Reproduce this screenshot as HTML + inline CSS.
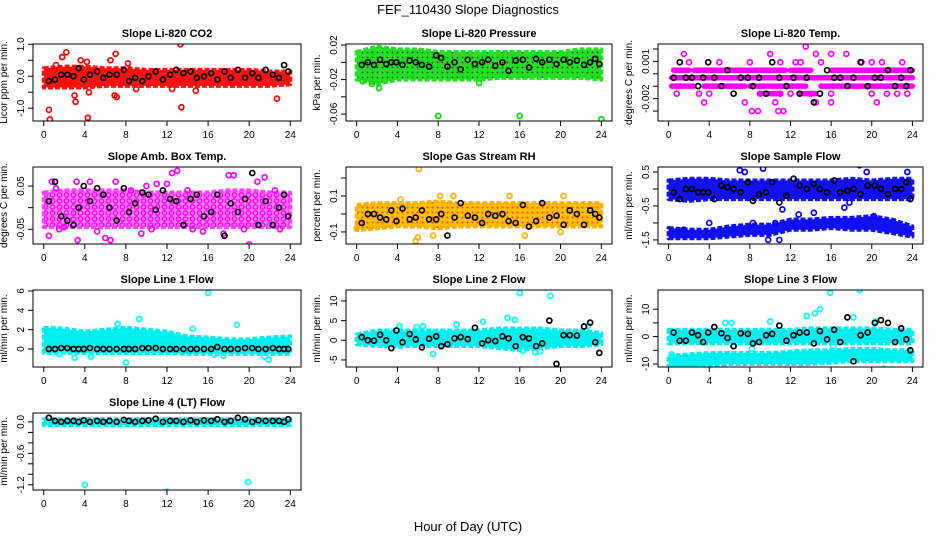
<!DOCTYPE html>
<html><head><meta charset="utf-8"><style>
body{margin:0;background:#fff;}
svg{display:block;font-family:"Liberation Sans",sans-serif;}
</style></head><body>
<svg id="chart" width="936" height="540" viewBox="0 0 936 540" xmlns="http://www.w3.org/2000/svg">
<defs>
<pattern id="patGreen" width="5" height="5" patternUnits="userSpaceOnUse"><rect width="5" height="5" fill="#22e022"/><circle cx="2.5" cy="2.5" r="0.9" fill="#104010"/></pattern>
<pattern id="patOrange" width="5" height="5" patternUnits="userSpaceOnUse"><rect width="5" height="5" fill="#ffc000"/><circle cx="2.5" cy="2.5" r="1" fill="#ff4000"/></pattern>
<pattern id="patPink" width="7" height="6" patternUnits="userSpaceOnUse"><rect width="7" height="6" fill="#ff80ff"/><circle cx="3.5" cy="3" r="2.2" fill="none" stroke="#ff00ff" stroke-width="1.4"/></pattern>
</defs>
<rect width="936" height="540" fill="#fff"/>
<text x="468" y="14" text-anchor="middle" font-size="13">FEF_110430  Slope Diagnostics</text>
<text x="468" y="531" text-anchor="middle" font-size="13">Hour of Day (UTC)</text>
<g id="panels"></g>
</svg>
<script>
const xTicks=[0,4,8,12,16,20,24];
const bandHours=[0,2,4,6,8,10,12,14,16,18,20,22,24];
const blackHours=[0.5,1.1,1.7,2.3,2.9,3.4,3.9,4.5,5.2,5.8,6.4,7.1,7.8,8.3,8.9,9.6,10.2,10.9,11.6,12.3,12.9,13.6,14.3,14.9,15.6,16.3,16.9,17.6,18.2,18.9,19.6,20.3,20.9,21.6,22.3,22.9,23.4,23.8];

// Panel 1 CO2
const p1Lo=[-0.35,-0.35,-0.35,-0.3,-0.3,-0.3,-0.3,-0.3,-0.3,-0.3,-0.3,-0.3,-0.25];
const p1Hi=[0.25,0.3,0.3,0.25,0.25,0.2,0.2,0.2,0.2,0.2,0.2,0.15,0.15];
const p1Out=[[0.5,-1.05],[0.6,-1.35],[1.8,0.6],[2.2,0.75],[1.2,0.35],[3,-0.6],[3.1,-0.8],[3.6,0.5],[4.3,-1.3],[4.2,0.45],[4.4,-0.5],[6.5,0.5],[7,0.7],[6.9,-0.6],[7.1,-0.65],[8.2,0.4],[13.3,1.0],[13.4,-0.97],[14.8,-0.45],[22.7,-0.7],[12.5,-0.4],[9,-0.4]];
const p1Black=[-0.15,-0.1,0.05,0.05,0.0,0.25,-0.1,0.05,0.15,-0.05,0.05,0.05,0.2,-0.15,-0.05,-0.15,0.0,0.15,-0.1,0.05,0.2,0.1,0.15,-0.05,0.0,0.1,-0.1,0.15,-0.05,0.2,-0.05,0.1,-0.05,0.2,0.05,-0.05,0.35,0.15];
// Panel 2 Pressure
const p2Lo=[-0.02,-0.025,-0.02,-0.02,-0.02,-0.02,-0.02,-0.018,-0.018,-0.018,-0.018,-0.018,-0.02];
const p2Hi=[0.012,0.018,0.015,0.015,0.012,0.012,0.012,0.012,0.012,0.012,0.012,0.015,0.015];
const p2Out=[[8,-0.062],[16,-0.062],[24,-0.066],[1.5,-0.025],[2.2,-0.03],[0.6,-0.022],[12,-0.024]];
const p2Black=[-0.003,0,-0.003,0.003,-0.002,0,0,-0.003,0.002,0,-0.003,-0.005,0.008,0.005,-0.005,0,-0.008,0.003,-0.002,0,0.003,-0.004,0,-0.01,0.002,0.003,-0.006,0.004,0,0.003,-0.002,0.003,0,0.002,-0.003,0,0.004,-0.002];
// Panel 3 Temp (quantized rows)
const p3Rows=[[0.3,24,-0.00032],[0.5,2,0.00029],[2.5,11.5,0.00029],[12,14,0.00029],[16,24,0.00029],[0.3,2.5,-0.00099],[3.5,7.5,-0.00099],[8,13.5,-0.00099],[15,24,-0.00099],[9,11,-0.0016],[13,14.5,-0.0016]];
const p3Out=[[1.5,0.0016],[10,0.0016],[13.5,0.0022],[14.5,0.0016],[16,0.0016],[17.5,0.0016],[11,0.00093],[2,0.00093],[5,0.00093],[8,0.00093],[13,0.00093],[15,0.00093],[19,0.00093],[20,0.00093],[21,0.00093],[12.5,0.00093],[23,0.00093],[0.8,-0.0016],[3,-0.0016],[4,-0.0016],[9,-0.0016],[11,-0.0016],[12,-0.0016],[14,-0.0016],[16,-0.0016],[20,-0.0016],[21.5,-0.0016],[22.5,-0.0016],[23.5,-0.0016],[3.5,-0.0023],[7.5,-0.0023],[10.5,-0.0023],[14.5,-0.0023],[16,-0.0023],[20.5,-0.0023],[8.2,-0.003],[8.8,-0.003],[10.8,-0.003],[11.3,-0.003]];
const p3Black=[-0.00032,0.00093,-0.00032,-0.00032,-0.00099,-0.00032,0.00093,-0.00032,-0.00099,0.00029,-0.0016,-0.00032,-0.00032,-0.00099,-0.00032,-0.0016,0.00093,-0.00032,-0.00099,-0.00032,-0.0016,-0.00032,-0.0023,-0.0016,0.00029,-0.00032,-0.00032,-0.00099,-0.00032,0.00093,-0.00099,-0.00032,-0.00032,0.00029,-0.00099,-0.00032,-0.00099,0.00029];
// Panel 4 Amb Box Temp
const p4Lo=[-0.045,-0.045,-0.045,-0.045,-0.045,-0.045,-0.045,-0.045,-0.045,-0.045,-0.045,-0.045,-0.045];
const p4Hi=[0.035,0.04,0.04,0.04,0.04,0.035,0.035,0.035,0.035,0.04,0.04,0.035,0.035];
const p4Out=[[0.5,-0.065],[0.8,0.06],[1.2,0.045],[3.3,-0.075],[3.2,0.06],[5.2,-0.055],[6,-0.07],[6.5,-0.075],[7,0.06],[8.5,0.04],[9.5,-0.06],[10,0.05],[11,0.055],[12,0.055],[12.5,0.08],[13,0.085],[14,0.04],[15.5,-0.055],[17.5,-0.06],[18,0.075],[18.5,0.075],[20,-0.085],[20.8,0.06],[21.5,0.07],[19.5,-0.05],[10.5,-0.05],[14.5,-0.05],[22.5,0.04],[23,-0.05],[2,-0.045],[1.5,-0.05],[4.5,0.06]];
const p4Black=[0.015,0.06,-0.02,-0.03,-0.04,0.0,0.05,0.015,0.045,0.03,0.0,-0.03,0.045,-0.01,0.01,0.035,0.03,-0.005,0.04,0.02,0.015,-0.04,0.02,0.03,-0.02,-0.01,0.03,-0.065,0.01,-0.01,0.02,0.08,-0.04,0.015,-0.04,0.0,0.03,-0.02];
// Panel 5 Gas RH
const p5Lo=[-0.09,-0.08,-0.07,-0.07,-0.08,-0.07,-0.07,-0.07,-0.07,-0.07,-0.07,-0.07,-0.07];
const p5Hi=[0.05,0.06,0.06,0.06,0.07,0.06,0.06,0.06,0.06,0.06,0.06,0.06,0.06];
const p5Out=[[6.1,0.25],[5.8,-0.15],[6,-0.13],[7.5,-0.12],[4.3,0.08],[9.5,0.1],[16.5,-0.12],[20,-0.1],[8.2,0.1],[15,0.1],[20.3,0.1],[0,-0.08]];
const p5Black=[-0.05,0.0,0.0,-0.02,-0.03,0.02,-0.04,0.03,-0.03,-0.02,0.02,-0.03,-0.03,0.0,-0.12,-0.02,0.06,-0.01,-0.02,-0.05,0.0,-0.01,0.0,-0.04,-0.05,0.05,-0.07,-0.04,0.06,-0.02,-0.01,-0.06,0.02,0.0,-0.06,0.02,0.0,-0.02];
// Panel 6 Sample Flow
const p6Lo=[-0.3,-0.35,-0.3,-0.3,-0.3,-0.3,-0.3,-0.3,-0.3,-0.3,-0.3,-0.3,-0.3];
const p6Hi=[0.25,0.3,0.3,0.25,0.25,0.25,0.25,0.25,0.25,0.3,0.25,0.3,0.3];
const p6Lo2=[-1.45,-1.45,-1.45,-1.4,-1.35,-1.35,-1.2,-1.2,-1.15,-1.2,-1.2,-1.3,-1.4];
const p6Hi2=[-1.15,-1.2,-1.2,-1.1,-1.05,-1.05,-0.9,-0.9,-0.85,-0.85,-0.8,-0.9,-1.1];
const p6Out=[[7,0.55],[7.5,0.5],[9.3,0.6],[18.8,0.7],[19.5,0.5],[23.5,0.5],[11.2,-0.6],[14.3,-0.7],[17.3,-0.55],[17.8,-0.4],[10.5,-1.0],[10.9,-1.5],[9.8,-1.5],[8.3,-1.0],[4,-1.0],[1.5,-1.2],[20.2,-0.8],[12.8,-0.75]];
const p6Black=[-0.1,-0.3,0.0,0.0,-0.1,-0.1,-0.1,-0.3,0.1,0.05,0.0,-0.1,0.2,-0.35,-0.15,-0.1,0.2,-0.4,-0.2,0.3,0.1,0.0,0.15,0.0,-0.1,0.25,-0.1,-0.05,0.0,-0.15,0.1,0.1,0.0,-0.15,0.0,0.0,0.2,-0.3];
// Panel 7 Line 1
const p7Lo=[-0.4,-0.4,-0.4,-0.4,-0.4,-0.4,-0.4,-0.5,-0.5,-0.5,-0.5,-0.5,-0.5];
const p7Hi=[2.2,2.1,1.8,2.0,2.2,2.0,1.8,1.3,1.2,1.0,1.0,1.2,1.3];
const p7Out=[[16,5.8],[9.3,3.1],[7.2,2.6],[18.8,2.5],[8,-1.4],[3,-0.9],[4.6,-0.8],[21.9,-1.1],[21.5,-0.8],[16.6,-0.6],[14.5,2.1],[1.5,-0.5],[17.5,-0.7]];
const p7Black=[0,0,0.1,0.1,0,0,0,0.1,0,0,0,0,0,0,0,0.1,0.1,0.1,0,0,0,0,0,0,0,0,0.2,0,0,0,0.1,0.1,0,0,0.1,0,0,0];
// Panel 8 Line 2
const p8Lo=[-1,-1.5,-1.5,-1.5,-1.5,-1.5,-1.5,-2,-2.5,-2,-1.5,-1.5,-1];
const p8Hi=[1.5,2.5,2.5,2.5,2.5,2.5,2.5,3,3,3,2.5,2.5,1.8];
const p8Out=[[16,12],[19,11.3],[14.8,5.7],[15.5,5.2],[12.4,4.7],[6.5,3.6],[4.3,-1.5],[4.2,3.6],[5.9,3.4],[7.5,-3.5],[17.5,-3],[18,-2.8],[22.7,3.7],[9.8,4],[16.3,-2.7]];
const p8Black=[0.8,0,-0.1,1.4,0,-2,2.5,-0.5,1.6,0.2,-1.8,0.4,1.0,-1.5,-1.0,0.5,0.8,0.3,3.2,-0.8,0,-0.2,1.0,0.5,-1.5,0.8,0.5,-1.5,-0.8,5.0,-6,1.3,1.3,1.2,3.5,4.5,-0.5,-3.2];
// Panel 9 Line 3
const p9Lo=[-2.5,-2.5,-2.5,-2.5,-2.5,-2.5,-2.5,-2.5,-2.5,-2.5,-2.5,-2.5,-2.5];
const p9Hi=[2.5,2.5,2.5,2.5,2.5,2.5,2.5,3,3,3,3,2.5,2.5];
const p9Lo2=[-11,-11,-10.5,-10,-10,-10,-10,-10,-9.5,-9,-9,-9,-9];
const p9Hi2=[-7,-6.5,-6,-6,-6,-6,-5.5,-5,-5,-4.5,-4.5,-5,-5];
const p9Out=[[15.9,16],[18.8,17],[14.9,10],[14.4,8.5],[13.6,7.5],[18.2,7],[10,5.5],[20.4,5.5],[6.2,5],[5.6,5],[8.2,-4.5],[11.4,-12],[13,-12],[21.2,-11.7],[0.1,-12],[5.7,-12],[0.3,-6.5],[16.2,-3.5]];
const p9Black=[1.5,-1.5,-1.5,1.5,0.5,-2,1.5,3.5,1.2,-0.5,-3.5,1.2,1,-2.5,-2,0.5,1,4,-1.5,0.5,1.5,1.5,-2.5,2,-1,2.5,-2,7,-9,0.5,1.5,5,6,5,-2,3,-1,-5];
// Panel 10 Line 4
const p10Lo=[-0.06,-0.06,-0.06,-0.06,-0.06,-0.06,-0.06,-0.06,-0.06,-0.06,-0.06,-0.06,-0.06];
const p10Hi=[0.05,0.05,0.05,0.05,0.05,0.05,0.05,0.05,0.05,0.05,0.05,0.05,0.05];
const p10Out=[[4,-1.2],[12,-1.33],[19.9,-1.15]];
const p10Black=[0.08,0.02,0.0,0.02,0.02,0.0,0.03,0.0,0.02,0.0,0.02,0.0,0.04,0.02,0.0,0.02,0.03,0.06,0.0,0.02,0.02,0.0,0.03,0.0,0.03,0.02,0.05,0.0,0.02,0.08,0.05,0.0,0.03,0.02,0.02,0.02,0.0,0.05];

const cols=[[33,301],[346,612],[658,923]];
const rows=[44,167,290,413];
const PH=77;
const panels=[
 {t:"Slope Li-820 CO2",yl:"Licor ppm per min.",c:0,r:0,ymin:-1.4,ymax:1.01,ticks:[-1,-0.5,0,0.5,1],labels:{"-1":"-1.0","0":"0.0","1":"1.0"},col:"#ff0000",band:"#ff1010",fill:"#ff1010",bands:[[p1Lo,p1Hi]],out:p1Out,blk:p1Black},
 {t:"Slope Li-820 Pressure",yl:"kPa per min.",c:1,r:0,ymin:-0.068,ymax:0.0212,ticks:[-0.06,-0.04,-0.02,0,0.02],labels:{"-0.06":"-0.06","-0.02":"-0.02","0.02":"0.02"},col:"#00e000",band:"#22e022",fill:"url(#patGreen)",bands:[[p2Lo,p2Hi]],out:p2Out,blk:p2Black},
 {t:"Slope Li-820 Temp.",yl:"degrees C per min.",c:2,r:0,ymin:-0.0038,ymax:0.0024,ticks:[-0.003,-0.002,-0.001,0,0.001,0.002],labels:{"-0.002":"-0.002","0.001":"0.001"},col:"#ff00ff",band:"#ff00ff",fill:"#ff00ff",bands:[],rowsSeg:p3Rows,out:p3Out,blk:p3Black},
 {t:"Slope Amb. Box Temp.",yl:"degrees C per min.",c:0,r:1,ymin:-0.084,ymax:0.094,ticks:[-0.05,0,0.05],labels:{"-0.05":"-0.05","0.05":"0.05"},col:"#ff00ff",band:"#ff40ff",fill:"url(#patPink)",bands:[[p4Lo,p4Hi]],out:p4Out,blk:p4Black},
 {t:"Slope Gas Stream RH",yl:"percent per min.",c:1,r:1,ymin:-0.167,ymax:0.261,ticks:[-0.1,0,0.1,0.2],labels:{"-0.1":"-0.1","0.1":"0.1"},col:"#ffb000",band:"#ffb000",fill:"url(#patOrange)",bands:[[p5Lo,p5Hi]],out:p5Out,blk:p5Black},
 {t:"Slope Sample Flow",yl:"ml/min per min.",c:2,r:1,ymin:-1.62,ymax:0.647,ticks:[-1.5,-1,-0.5,0,0.5],labels:{"-1.5":"-1.5","-0.5":"-0.5","0.5":"0.5"},col:"#0000ff",band:"#1010f0",fill:"#1010f0",bands:[[p6Lo,p6Hi],[p6Lo2,p6Hi2]],out:p6Out,blk:p6Black},
 {t:"Slope Line 1 Flow",yl:"ml/min per min.",c:0,r:2,ymin:-1.86,ymax:6.1,ticks:[0,2,4,6],labels:{"0":"0","2":"2","4":"4","6":"6"},col:"#00ffff",band:"#00f0f0",fill:"#00f0f0",bands:[[p7Lo,p7Hi]],out:p7Out,blk:p7Black},
 {t:"Slope Line 2 Flow",yl:"ml/min per min.",c:1,r:2,ymin:-6.8,ymax:12.8,ticks:[-5,0,5,10],labels:{"-5":"-5","0":"0","5":"5","10":"10"},col:"#00ffff",band:"#00f0f0",fill:"#00f0f0",bands:[[p8Lo,p8Hi]],out:p8Out,blk:p8Black},
 {t:"Slope Line 3 Flow",yl:"ml/min per min.",c:2,r:2,ymin:-11.1,ymax:17,ticks:[-10,-5,0,5,10],labels:{"-10":"-10","0":"0","10":"10"},col:"#00ffff",band:"#00f0f0",fill:"#00f0f0",bands:[[p9Lo,p9Hi],[p9Lo2,p9Hi2]],out:p9Out,blk:p9Black},
 {t:"Slope Line 4 (LT) Flow",yl:"ml/min per min.",c:0,r:3,ymin:-1.3,ymax:0.17,ticks:[-1.2,-1,-0.8,-0.6,-0.4,-0.2,0],labels:{"-1.2":"-1.2","-0.6":"-0.6","0":"0.0"},col:"#00ffff",band:"#00f0f0",fill:"#00f0f0",bands:[[p10Lo,p10Hi]],out:p10Out,blk:p10Black}
];
const NS="http://www.w3.org/2000/svg";
const root=document.getElementById('panels');
function mk(tag,attrs,parent){const e=document.createElementNS(NS,tag);for(const k in attrs)e.setAttribute(k,attrs[k]);parent.appendChild(e);return e;}
panels.forEach((p,i)=>{
 const L=cols[p.c][0],R=cols[p.c][1],T=rows[p.r],B=T+PH;
 const W=R-L;
 const xs=h=>L+W*(0.04+0.92*h/24);
 const ys=v=>B-(v-p.ymin)/(p.ymax-p.ymin)*PH;
 const g=mk('g',{},root);
 
 
 const clip=mk('clipPath',{id:'clip'+i},g);
 mk('rect',{x:L,y:T,width:W,height:PH},clip);
 const title=mk('text',{x:(L+R)/2,y:T-7,'text-anchor':'middle','font-size':'11','font-weight':'bold'},g);
 title.textContent=p.t;
 
 
 const yl=mk('text',{x:0,y:0,transform:`translate(${L-26},${(T+B)/2}) rotate(-90)`,'text-anchor':'middle','font-size':'10'},g);
 yl.textContent=p.yl;
 
 
 const data=mk('g',{'clip-path':`url(#clip${i})`},g);
 
 
 p.bands.forEach(b=>{
  const lo=b[0],hi=b[1];
  let pts=bandHours.map((h,k)=>xs(h)+','+ys(hi[k]));
  pts=pts.concat(bandHours.map((h,k)=>xs(h)+','+ys(lo[k])).reverse());
  const poly=mk('polygon',{points:pts.join(' '),fill:p.fill,stroke:p.band,'stroke-width':4,'stroke-linejoin':'round','stroke-dasharray':'5 2'},data);
  
  
 });
 (p.rowsSeg||[]).forEach(s=>{
  const ln=mk('line',{x1:xs(s[0]),x2:xs(s[1]),y1:ys(s[2]),y2:ys(s[2]),stroke:p.band,'stroke-width':5.5,'stroke-linecap':'round'},data);
  
  
 });
 p.out.forEach(o=>{
  const c=mk('circle',{cx:xs(o[0]),cy:ys(o[1]),r:2.5,fill:'none',stroke:p.col,'stroke-width':1.7},data);
  
  
 });
 p.blk.forEach((v,k)=>{
  const c=mk('circle',{cx:xs(blackHours[k]),cy:ys(v),r:2.5,fill:'none',stroke:'#000','stroke-width':1.7},data);
  
  
 });
 const box=mk('rect',{x:L,y:T,width:W,height:PH,fill:'none',stroke:'#000','stroke-width':1},g);
 
 
 xTicks.forEach(h=>{
  mk('line',{x1:xs(h),x2:xs(h),y1:B,y2:B+5,stroke:'#000'},g);
  const tl=mk('text',{x:xs(h),y:B+17,'text-anchor':'middle','font-size':'10'},g);
  tl.textContent=h;
  
  
 });
 p.ticks.forEach(v=>{
  mk('line',{x1:L-5,x2:L,y1:ys(v),y2:ys(v),stroke:'#000'},g);
  const lab=p.labels[String(v)];
  if(lab!==undefined){
   const tl=mk('text',{x:0,y:0,transform:`translate(${L-9},${ys(v)}) rotate(-90)`,'text-anchor':'middle','font-size':'10'},g);
   tl.textContent=lab;
   
   
  }
 });
});
</script>
</body></html>
